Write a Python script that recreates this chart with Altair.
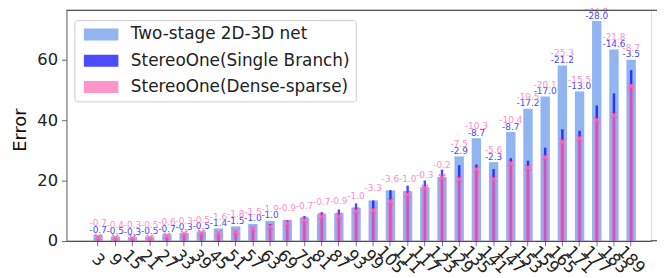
import altair as alt
import pandas as pd

categories = ["3", "9", "15", "21", "27", "33", "39", "45", "51", "57", "63", "69",
              "75", "81", "87", "93", "99", "105", "111", "117", "123", "129", "135",
              "141", "147", "153", "159", "165", "171", "177", "183", "189"]

two_stage = [1.9, 1.4, 1.2, 1.4, 2.2, 2.6, 3.1, 4.1, 4.8, 5.6, 6.6, 6.8, 7.6, 8.8,
             9.1, 11.0, 13.4, 16.7, 16.4, 17.8, 21.2, 28.0, 34.0, 26.1, 36.1, 43.8,
             47.9, 58.2, 49.5, 72.9, 63.5, 60.1]

single_diff = [-0.7, -0.5, -0.3, -0.5, -0.7, -0.3, -0.5, -1.4, -1.5, -1.0, -1.0,
               0.0, 0.6, 0.7, 1.3, 1.4, 0.0, 0.1, 1.9, 2.2, 2.4,
               -2.9, -8.7, -2.3, -8.7, -17.2, -17.0, -21.2, -13.0, -28.0, -14.6, -3.5]

dense_diff = [-0.7, -0.4, -0.3, -0.5, -0.6, -0.3, -0.5, -1.6, -1.8, -1.5, -1.9,
              -0.9, -0.7, -0.7, -0.9, -1.0, -3.3, -3.6, -1.0, -0.3, -0.2,
              -7.5, -10.3, -5.6, -10.4, -19.5, -20.1, -25.3, -15.5, -32.8, -21.8, -8.7]

series_names = ["Two-stage 2D-3D net", "StereoOne(Single Branch)", "StereoOne(Dense-sparse)"]
series_colors = ["cornflowerblue", "blue", "hotpink"]

df = pd.DataFrame({
    "cat": categories,
    "T": two_stage,
    "sdiff": single_diff,
    "ddiff": dense_diff,
})
df["S"] = df["T"] + df["sdiff"]
df["D"] = df["T"] + df["ddiff"]
df["slabel"] = df["sdiff"].map(lambda v: f"{v:.1f}")
df["dlabel"] = df["ddiff"].map(lambda v: f"{v:.1f}")

W = 590
H = 232.7
EXT = 6
FONT = "DejaVu Sans"

xenc = alt.X("cat:N", sort=categories,
             scale=alt.Scale(paddingInner=0, paddingOuter=1, align=0.671),
             axis=alt.Axis(title=None, labelAngle=45, labelAlign="center",
                           labelBaseline="middle", labelPadding=14, tickSize=5,
                           labelFontSize=16.5, labelOverlap=False, labelColor="#222",
                           domainColor="#222", tickColor="#777", labelFont=FONT))
yscale = alt.Scale(domain=[0, 76.5], nice=False, zero=True)
yaxis = alt.Axis(values=[0, 20, 40, 60], title="Error", titleFontSize=18,
                 titleFontWeight="normal", titleX=-46, titleY=120.5, titleAngle=270,
                 titleAlign="center", titleBaseline="middle", titleColor="#111",
                 labelFontSize=16.5, labelColor="#222", tickSize=5, labelPadding=4,
                 domainColor="#666", tickColor="#666", grid=False, labelFont=FONT,
                 titleFont=FONT)

color_scale = alt.Scale(domain=series_names, range=series_colors)
legend = alt.Legend(title=None, orient="none", legendX=8, legendY=10,
                    labelFontSize=17, labelFont=FONT, labelColor="#222", labelLimit=0,
                    symbolType="M-2.9,-1H2.9V1H-2.9Z", symbolSize=144,
                    symbolOffset=12.5, symbolStrokeWidth=0,
                    strokeColor="#cccccc", cornerRadius=3,
                    padding=6, fillColor="white", rowPadding=8.5, labelOffset=21.5)


def color_for():
    return alt.Color("series:N", scale=color_scale, legend=legend)


base = alt.Chart(df)

bar_t = base.transform_calculate(series=f"'{series_names[0]}'").mark_bar(
    size=9.5, opacity=0.7).encode(
    x=xenc, y=alt.Y("T:Q", scale=yscale, axis=yaxis), color=color_for())
bar_s = base.transform_calculate(series=f"'{series_names[1]}'").mark_bar(
    size=2.5, opacity=0.7).encode(
    x=xenc, y=alt.Y("S:Q", scale=yscale), color=color_for())
bar_d = base.transform_calculate(series=f"'{series_names[2]}'").mark_bar(
    size=5, opacity=0.7).encode(
    x=xenc, y=alt.Y("D:Q", scale=yscale), color=color_for())
marks = base.mark_point(shape="M-1,-1L1,1M-1,1L1,-1", filled=False, strokeWidth=1.8,
                        size=40, color="hotpink", opacity=0.85).encode(
    x=xenc, y=alt.Y("D:Q", scale=yscale))
txt_s = base.transform_filter("datum.sdiff < 0").mark_text(
    fontSize=9, font=FONT, color="blue", opacity=0.75, baseline="middle", dy=-5.5).encode(
    x=xenc, y=alt.Y("T:Q", scale=yscale), text="slabel:N")
txt_d = base.mark_text(fontSize=9, font=FONT, color="hotpink", opacity=0.75,
                       baseline="middle", dy=-12).encode(
    x=xenc, y=alt.Y("T:Q", scale=yscale), text="dlabel:N")
rules_df = pd.DataFrame({"a": [0]})
top = alt.Chart(rules_df).mark_rule(color="#222", strokeWidth=1).encode(
    x=alt.value(0), x2=alt.value(W + EXT), y=alt.value(0))
bottom_ext = alt.Chart(rules_df).mark_rule(color="#222", strokeWidth=1).encode(
    x=alt.value(W), x2=alt.value(W + EXT), y=alt.value(H))

chart = alt.layer(bar_t, bar_s, bar_d, marks, txt_s, txt_d, top, bottom_ext).properties(
    width=W, height=H,
    autosize=alt.AutoSizeParams(type="none"),
    padding={"left": 59, "top": 1, "right": EXT, "bottom": 36},
).configure_view(stroke=None).configure(font=FONT)

chart.save("out.html", embed_options={"renderer": "svg", "actions": False})
